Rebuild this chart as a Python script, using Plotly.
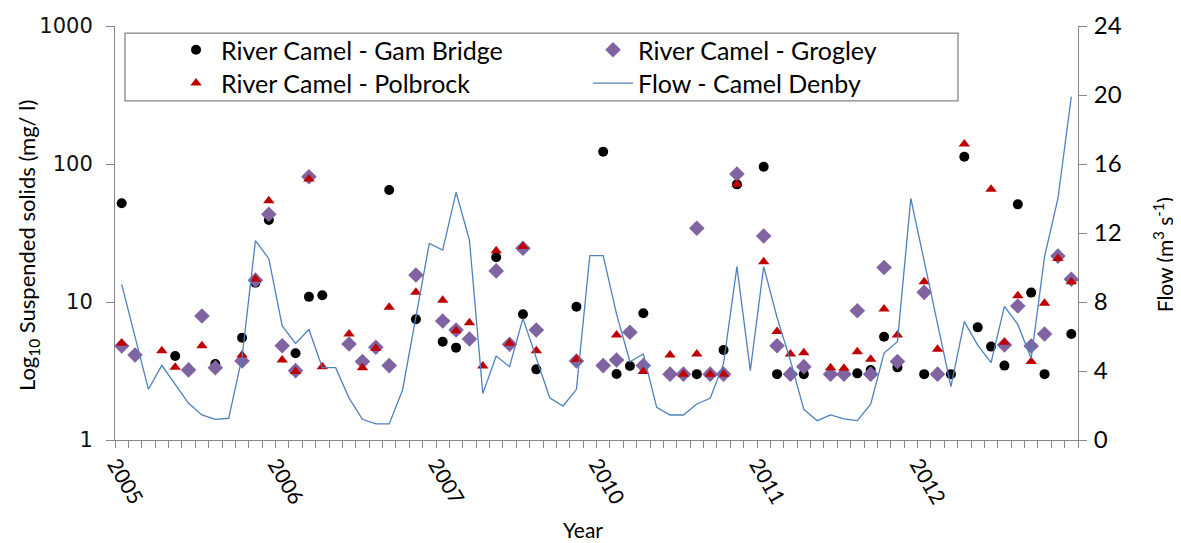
import plotly.graph_objects as go

years = ["2005", "2006", "2007", "2010", "2011", "2012"]
month_names = ["01", "02", "03", "04", "05", "06", "07", "08", "09", "10", "11", "12"]
categories = [f"{y}-{m}" for y in years for m in month_names]
year_ticks = [f"{y}-01" for y in years]

N = None
# Suspended solids (mg/l), one value per monthly category (None = no sample)
gam_bridge = [51.9, N, N, N, 4.06, N, N, 3.55, N, 5.51, 13.8, 39.3,
              N, 4.25, 10.9, 11.2, N, N, N, N, 64.8, N, 7.49, N,
              5.15, 4.67, N, N, 21.1, N, 8.15, 3.25, N, N, 9.25, N,
              122.8, 3.01, 3.44, 8.28, N, N, N, 3.0, N, 4.49, 71.2, N,
              95.6, 3.0, N, 3.0, N, N, N, 3.04, 3.22, 5.6, 3.36, N,
              3.0, N, 3.0, 113.0, 6.55, 4.75, 3.46, 51.0, 11.7, 3.0, N, 5.86]

grogley = [4.80, 4.13, N, N, N, 3.22, 7.92, 3.34, N, 3.74, 14.4, 43.2,
           4.82, 3.18, 80.9, N, N, 4.96, 3.70, 4.70, 3.46, N, 15.7, N,
           7.28, 6.27, 5.4, N, 16.8, 4.94, 24.5, 6.27, N, N, 3.74, N,
           3.46, 3.80, 6.03, 3.46, N, 3.0, 3.0, 34.2, 3.0, 3.0, 84.7, N,
           30.1, 4.82, 3.0, 3.40, N, 3.0, 3.0, 8.65, 3.0, 17.8, 3.70, N,
           11.75, 3.0, N, N, N, N, 4.88, 9.35, 4.80, 5.86, 21.5, 14.6]

polbrock = [5.02, N, N, 4.44, 3.36, N, 4.82, N, N, 4.13, 14.6, 54.2,
            3.80, 3.13, 77.9, 3.40, N, 5.86, 3.34, 4.62, 9.15, N, 11.75, N,
            10.3, 6.2, 7.08, 3.44, 23.5, 5.02, 25.2, 4.44, N, N, 3.85, N,
            N, 5.77, N, 3.13, N, 4.13, 3.0, 4.2, 3.0, 3.0, 71.2, N,
            19.6, 6.1, 4.2, 4.29, N, 3.34, 3.31, 4.36, 3.84, 8.9, 5.77, N,
            14.0, 4.54, N, 139.6, N, 65.6, 5.1, 11.1, 3.70, 9.78, 20.7, 14.0]

# Flow (m3/s) at Camel Denby
flow = [9.02, 5.99, 2.94, 4.33, 3.23, 2.13, 1.45, 1.20, 1.26, 4.8, 11.56, 10.51,
        6.61, 5.60, 6.41, 4.19, 4.19, 2.43, 1.20, 0.93, 0.93, 2.90, 7.15, 11.40,
        11.01, 14.36, 11.59, 2.70, 4.87, 4.25, 7.05, 4.73, 2.45, 1.97, 2.94, 10.69,
        10.69, 7.3, 4.54, 4.99, 1.89, 1.45, 1.45, 2.09, 2.42, 4.44, 10.05, 4.02,
        10.05, 7.1, 4.6, 1.78, 1.12, 1.45, 1.22, 1.12, 2.08, 5.04, 5.70, 14.01,
        10.38, 6.72, 3.09, 6.86, 5.5, 4.49, 7.75, 6.7, 4.73, 10.63, 14.0, 19.9]

AXIS = "#868686"
FONT = "Lato"

fig = go.Figure()
fig.add_trace(go.Scatter(x=categories, y=gam_bridge, mode="markers", name="River Camel - Gam Bridge",
                         marker=dict(symbol="circle", size=10, color="#000000"), legend="legend"))
fig.add_trace(go.Scatter(x=categories, y=grogley, mode="markers", name="River Camel - Grogley",
                         marker=dict(symbol="diamond", size=12, color="#8064A2"), legend="legend2"))
fig.add_trace(go.Scatter(x=categories, y=polbrock, mode="markers", name="River Camel - Polbrock",
                         marker=dict(symbol="triangle-up", size=10, color="#C00000"), legend="legend3"))
fig.add_trace(go.Scatter(x=categories, y=flow, mode="lines", name="Flow - Camel Denby",
                         line=dict(color="#4F81BD", width=1.3), xaxis="x2", yaxis="y2", legend="legend4"))

legend_common = dict(font=dict(family=FONT, size=25, color="#000000"), bgcolor="rgba(0,0,0,0)",
                     yanchor="middle", xanchor="left", itemsizing="trace", itemwidth=40)

fig.update_layout(
    width=1173, height=535, autosize=False,
    margin=dict(l=107, r=103, t=18, b=103, autoexpand=False),
    paper_bgcolor="white", plot_bgcolor="white",
    font=dict(family=FONT, color="#000000"),
    showlegend=True,
    legend=dict(x=0.0582, y=0.942, **legend_common),
    legend3=dict(x=0.0582, y=0.8616, **legend_common),
    legend2=dict(x=0.4912, y=0.942, **legend_common),
    legend4=dict(x=0.4912, y=0.8616, **legend_common),
    # main category axis: year labels only
    xaxis=dict(type="category", categoryorder="array", categoryarray=categories, automargin=False,
               range=[-0.5, 71.5], tickmode="array", tickvals=year_ticks, ticktext=years,
               ticks="outside", ticklen=7, tickcolor="rgba(0,0,0,0)",
               showline=True, linecolor=AXIS, linewidth=1, showgrid=False, tickangle=60,
               ticklabelshift=-6, ticklabelstandoff=-4,
               tickfont=dict(family=FONT, size=21)),
    # same categories, drawing the month boundary tick marks
    xaxis2=dict(type="category", categoryorder="array", categoryarray=categories, automargin=False,
                matches="x", overlaying="x", anchor="y2", side="bottom",
                range=[-0.5, 71.5], tickmode="array", tickvals=categories, showticklabels=False,
                tickson="boundaries", ticks="outside", ticklen=7, tickcolor=AXIS, tickwidth=1,
                showline=True, linecolor=AXIS, linewidth=1, showgrid=False),
    yaxis=dict(type="log", range=[0, 3], tickmode="array", tickvals=[1, 10, 100, 1000], automargin=False,
               ticktext=["1", "10", "100", "1000"], ticks="outside", ticklen=8, tickcolor=AXIS,
               showline=True, linecolor=AXIS, linewidth=1, showgrid=False, zeroline=False,
               ticklabelstandoff=9,
               tickfont=dict(family="DejaVu Sans", size=21, color="#111111")),
    yaxis2=dict(overlaying="y", side="right", range=[0, 24], tickmode="linear", tick0=0, dtick=4,
                automargin=False,
                ticks="outside", ticklen=8, tickcolor=AXIS, showline=True, linecolor=AXIS, linewidth=1,
                showgrid=False, zeroline=False, ticklabelstandoff=2,
                tickfont=dict(family=FONT, size=24)),
    shapes=[dict(type="rect", xref="paper", yref="paper", x0=0.0104, x1=0.8754, y0=0.819, y1=0.983,
                 line=dict(color=AXIS, width=1.3), fillcolor="rgba(0,0,0,0)", layer="above")],
    annotations=[
        dict(text="Year", xref="paper", yref="paper", x=0.486, y=-0.217, showarrow=False,
             xanchor="center", yanchor="middle", font=dict(family=FONT, size=21)),
        dict(text="Log<sub>10</sub> Suspended solids (mg/ l)", xref="paper", yref="paper",
             x=-0.0903, y=0.4686, showarrow=False, textangle=-90, xanchor="center", yanchor="middle",
             font=dict(family=FONT, size=22)),
        dict(text="Flow (m<sup>3</sup> s<sup>-1</sup>)", xref="paper", yref="paper",
             x=1.088, y=0.448, showarrow=False, textangle=-90, xanchor="center", yanchor="middle",
             font=dict(family=FONT, size=21)),
    ],
)

fig.write_html("out.html")
